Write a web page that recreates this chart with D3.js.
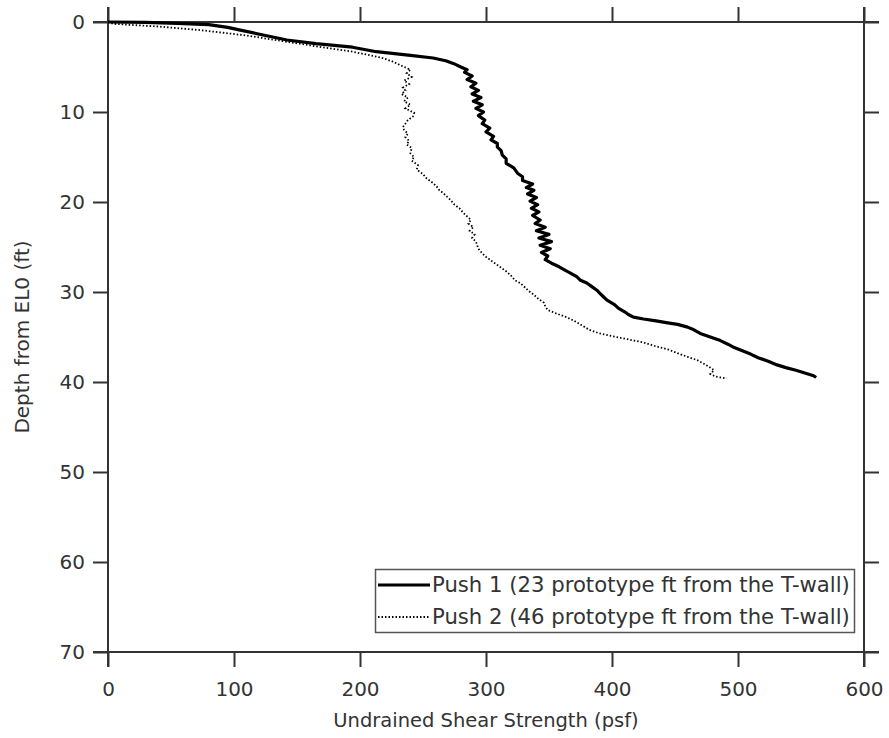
<!DOCTYPE html>
<html>
<head>
<meta charset="utf-8">
<script src="https://cdn.jsdelivr.net/npm/d3@7"></script>
<style>
  body { margin: 0; background: #fff; }
  svg { display: block; }
  text { font-family: "DejaVu Sans", sans-serif; fill: #333; }
</style>
</head>
<body>
<div id="holder"></div>
<script>
// Push 1, 23 ft from the T-wall: [depth ft, su psf]
const push1Depth = [0, 0.05, 0.15, 0.3, 0.6, 0.9, 1.5, 2.0, 2.4, 2.8, 3.3, 3.7, 4.0, 4.3, 4.6, 5.0, 5.3, 5.6, 6.0, 6.4, 6.8, 7.2, 7.6, 8.0, 8.4, 8.8, 9.2, 9.6, 10.0, 10.4, 10.9, 11.3, 11.8, 12.2, 12.7, 13.1, 13.5, 13.9, 14.3, 14.8, 15.2, 15.7, 16.2, 16.8, 17.2, 17.6, 18.0, 18.4, 18.7, 19.1, 19.5, 19.9, 20.3, 20.7, 21.1, 21.5, 22.0, 22.4, 22.8, 23.2, 23.6, 24.0, 24.4, 24.8, 25.2, 25.6, 26.0, 26.4, 26.8, 27.2, 27.6, 27.9, 28.3, 28.7, 29.0, 29.4, 29.8, 30.1, 30.5, 30.9, 31.4, 31.8, 32.2, 32.5, 32.8, 33.0, 33.2, 33.4, 33.6, 33.9, 34.2, 34.6, 35.0, 35.4, 35.8, 36.1, 36.5, 36.9, 37.3, 37.7, 38.1, 38.4, 38.7, 39.0, 39.3, 39.5];
const push1Su = [0, 30, 55, 80, 95, 105, 125, 142, 165, 194, 213, 240, 258, 268, 274, 280, 285, 283, 289, 285, 292, 288, 294, 289, 296, 290, 297, 292, 298, 294, 299, 297, 303, 300, 306, 304, 309, 309, 312, 313, 316, 316, 322, 325, 329, 329, 337, 332, 338, 333, 340, 335, 341, 336, 342, 337, 343, 339, 347, 340, 350, 342, 352, 343, 351, 344, 349, 347, 352, 358, 363, 367, 372, 375, 380, 384, 388, 390, 393, 396, 402, 405, 410, 413, 417, 425, 435, 443, 452, 460, 465, 470, 478, 486, 492, 496, 503, 510, 516, 524, 531, 538, 546, 553, 560, 562];

// Push 2, 46 ft from the T-wall
const push2Depth = [0, 0.2, 0.5, 0.9, 1.5, 2.2, 2.8, 3.3, 3.7, 4.0, 4.4, 4.8, 5.3, 5.7, 6.1, 6.5, 6.9, 7.3, 7.6, 8.0, 8.4, 8.8, 9.2, 9.6, 10.1, 10.5, 10.9, 11.3, 11.7, 12.0, 12.4, 12.8, 13.2, 13.6, 14.0, 14.6, 15.0, 15.4, 15.9, 16.4, 16.9, 17.4, 17.9, 18.3, 18.7, 19.0, 19.4, 19.8, 20.3, 20.7, 21.2, 21.6, 22.0, 22.4, 22.8, 23.2, 23.6, 24.0, 24.4, 24.8, 25.2, 25.7, 26.1, 26.4, 26.9, 27.3, 27.7, 28.2, 28.7, 29.0, 29.5, 29.9, 30.3, 30.7, 31.2, 31.6, 32.0, 32.4, 32.8, 33.2, 33.7, 34.2, 34.6, 34.9, 35.3, 35.6, 36.0, 36.4, 36.8, 37.2, 37.6, 37.9, 38.3, 38.7, 39.1, 39.4, 39.6];
const push2Su = [0, 4, 40, 73, 110, 142, 170, 194, 208, 218, 226, 232, 240, 237, 241, 235, 239, 234, 236, 233, 238, 235, 240, 236, 243, 242, 238, 236, 234, 235, 238, 236, 239, 237, 241, 240, 243, 241, 246, 245, 250, 253, 258, 261, 263, 266, 269, 272, 275, 279, 282, 285, 288, 286, 290, 287, 291, 289, 292, 293, 294, 297, 300, 303, 308, 312, 316, 320, 323, 327, 331, 334, 338, 341, 346, 347, 349, 356, 364, 370, 376, 382, 390, 400, 414, 425, 434, 445, 452, 460, 468, 472, 477, 481, 478, 482, 491];

const xTicks = [0, 100, 200, 300, 400, 500, 600];
const yTicks = [0, 10, 20, 30, 40, 50, 60, 70];
const seriesNames = [
  'Push 1 (23 prototype ft from the T-wall)',
  'Push 2 (46 prototype ft from the T-wall)'
];

const W = 889, H = 738;
const mLeft = 108, mRight = 864, mTop = 22, mBottom = 652;
const tick = 15;
const axisColor = '#333';

const svg = d3.select('#holder')
  .append('svg')
  .attr('width', W)
  .attr('height', H);

const x = d3.scaleLinear().domain([0, 600]).range([mLeft, mRight]);
const y = d3.scaleLinear().domain([0, 70]).range([mTop, mBottom]);

// axes, all four sides, ticks outside
const mkAxis = (g, axis) => {
  g.call(axis);
  g.select('.domain').remove();
  g.selectAll('.tick line').attr('stroke', axisColor).attr('stroke-width', 2);
};

svg.append('g')
  .attr('transform', 'translate(0,' + mBottom + ')')
  .call(g => mkAxis(g, d3.axisBottom(x).tickValues(xTicks).tickSize(tick).tickPadding(15)))
  .selectAll('text')
  .style('font-size', '20px')
  .attr('fill', axisColor);

svg.append('g')
  .attr('transform', 'translate(0,' + mTop + ')')
  .call(g => mkAxis(g, d3.axisTop(x).tickValues(xTicks).tickSize(tick).tickFormat('')));

svg.append('g')
  .attr('transform', 'translate(' + mLeft + ',0)')
  .call(g => mkAxis(g, d3.axisLeft(y).tickValues(yTicks).tickSize(tick).tickPadding(8)))
  .selectAll('text')
  .style('font-size', '20px')
  .attr('fill', axisColor);

svg.append('g')
  .attr('transform', 'translate(' + mRight + ',0)')
  .call(g => mkAxis(g, d3.axisRight(y).tickValues(yTicks).tickSize(tick).tickFormat('')));

// frame lines run past the corners like the ticks do
const frame = svg.append('g')
  .attr('stroke', axisColor)
  .attr('stroke-width', 2);
frame.append('line').attr('x1', mLeft - tick).attr('x2', mRight + tick).attr('y1', mTop).attr('y2', mTop);
frame.append('line').attr('x1', mLeft - tick).attr('x2', mRight + tick).attr('y1', mBottom).attr('y2', mBottom);
frame.append('line').attr('x1', mLeft).attr('x2', mLeft).attr('y1', mTop - tick).attr('y2', mBottom + tick);
frame.append('line').attr('x1', mRight).attr('x2', mRight).attr('y1', mTop - tick).attr('y2', mBottom + tick);

const line = d3.line()
  .x(d => x(d[1]))
  .y(d => y(d[0]));

svg.append('path')
  .datum(push2Depth.map((d, i) => [d, push2Su[i]]))
  .attr('d', line)
  .attr('fill', 'none')
  .attr('stroke', '#000')
  .attr('stroke-width', 1.8)
  .attr('stroke-dasharray', '1.5,2');

svg.append('path')
  .datum(push1Depth.map((d, i) => [d, push1Su[i]]))
  .attr('d', line)
  .attr('fill', 'none')
  .attr('stroke', '#000')
  .attr('stroke-width', 3.2)
  .attr('stroke-linejoin', 'round');

// axis titles
svg.append('text')
  .attr('x', (mLeft + mRight) / 2)
  .attr('y', 727)
  .attr('text-anchor', 'middle')
  .style('font-size', '19.5px')
  .text('Undrained Shear Strength (psf)');

svg.append('text')
  .attr('transform', 'translate(29,' + ((mTop + mBottom) / 2) + ') rotate(-90)')
  .attr('text-anchor', 'middle')
  .style('font-size', '20px')
  .text('Depth from EL0 (ft)');

// legend
const legend = svg.append('g');
legend.append('rect')
  .attr('x', 375.5).attr('y', 569.5)
  .attr('width', 479).attr('height', 63)
  .attr('fill', '#fff')
  .attr('stroke', '#555')
  .attr('stroke-width', 1.5);

seriesNames.forEach((name, i) => {
  const ly = 585 + i * 32;
  legend.append('line')
    .attr('x1', 378).attr('x2', 430)
    .attr('y1', ly).attr('y2', ly)
    .attr('stroke', '#000')
    .attr('stroke-width', i === 0 ? 3.2 : 1.8)
    .attr('stroke-dasharray', i === 0 ? null : '1.5,2');
  legend.append('text')
    .attr('x', 432)
    .attr('y', ly + 7)
    .style('font-size', '21.2px')
    .text(name);
});
</script>
</body>
</html>
